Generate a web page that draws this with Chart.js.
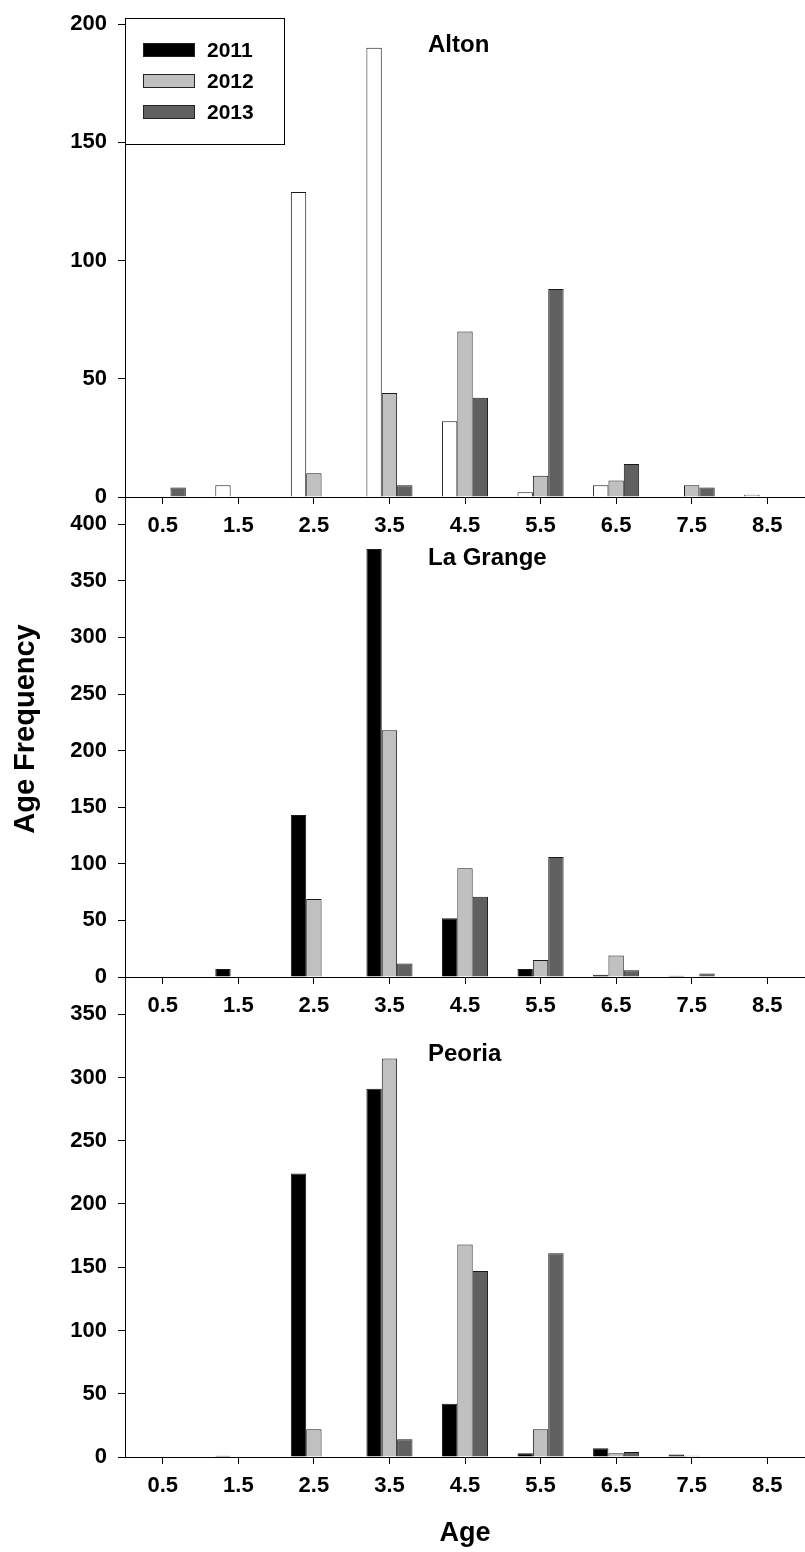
<!DOCTYPE html>
<html><head><meta charset="utf-8">
<script src="https://cdn.jsdelivr.net/npm/chart.js@4.4.1/dist/chart.umd.min.js"></script>
<style>
html,body{margin:0;padding:0;background:#fff;}
#wrap{position:relative;width:805px;height:1552px;overflow:hidden;background:#fff;}
canvas{position:absolute;left:0;}
</style></head><body>
<div id="wrap">
<canvas id="c1" width="805" height="560" style="top:0px;width:805px;height:560px"></canvas>
<canvas id="c2" width="805" height="540" style="top:500px;width:805px;height:540px"></canvas>
<canvas id="c3" width="805" height="562" style="top:990px;width:805px;height:562px"></canvas>
</div>
<script>
// ---- data ----
const ages = ['0.5','1.5','2.5','3.5','4.5','5.5','6.5','7.5','8.5'];
const years = ['2011','2012','2013'];

const alton2011 = [0, 5, 129, 190, 32, 2, 5, 0, 1];
const alton2012 = [0, 0, 10, 44, 70, 9, 7, 5, 0];
const alton2013 = [4, 0, 0, 5, 42, 88, 14, 4, 0];

const lagrange2011 = [0, 7, 143, 378, 52, 7, 2, 1, 0];
const lagrange2012 = [0, 0, 69, 218, 96, 15, 19, 0, 0];
const lagrange2013 = [0, 0, 0, 12, 71, 106, 6, 3, 0];

const peoria2011 = [0, 1, 224, 291, 42, 3, 7, 2, 0];
const peoria2012 = [0, 0, 22, 315, 168, 22, 3, 1, 0];
const peoria2013 = [0, 0, 0, 14, 147, 161, 4, 0, 0];

const altonTicks = [0, 50, 100, 150, 200];
const lagrangeTicks = [0, 50, 100, 150, 200, 250, 300, 350, 400];
const peoriaTicks = [0, 50, 100, 150, 200, 250, 300, 350];

const panelNames = ['Alton', 'La Grange', 'Peoria'];
const xTitle = 'Age';
const yTitle = 'Age Frequency';

// ---- styles ----
const FAMILY = "'Liberation Sans', Arial, Helvetica, sans-serif";
const yearColors = ['#000000', '#c0c0c0', '#606060'];
const barBorder = '#1a1a1a';

// ---- plugins ----
const axisExtend = {
  id: 'axisExtend',
  afterDraw(chart, args, opts) {
    if (!opts.enabled) return;
    const {ctx, chartArea} = chart;
    const x = Math.round(chartArea.left) + 0.5;
    ctx.save();
    ctx.strokeStyle = '#000';
    ctx.lineWidth = 1;
    ctx.beginPath();
    ctx.moveTo(x, chartArea.bottom);
    ctx.lineTo(x, chart.height);
    ctx.stroke();
    ctx.restore();
  }
};

const panelLabel = {
  id: 'panelLabel',
  afterDraw(chart, args, opts) {
    if (!opts.text) return;
    const {ctx} = chart;
    ctx.save();
    ctx.fillStyle = '#000';
    ctx.font = `bold ${opts.size}px ${FAMILY}`;
    ctx.textAlign = 'left';
    ctx.textBaseline = 'alphabetic';
    ctx.fillText(opts.text, opts.x, opts.y);
    ctx.restore();
  }
};

const boxLegend = {
  id: 'boxLegend',
  afterDraw(chart, args, opts) {
    if (!opts.show) return;
    const {ctx} = chart;
    ctx.save();
    ctx.strokeStyle = '#000';
    ctx.lineWidth = 1;
    ctx.fillStyle = '#fff';
    ctx.fillRect(opts.x, opts.y, opts.w, opts.h);
    ctx.strokeRect(opts.x + 0.5, opts.y + 0.5, opts.w, opts.h);
    ctx.font = `bold ${opts.size}px ${FAMILY}`;
    ctx.textBaseline = 'middle';
    ctx.textAlign = 'left';
    opts.labels.forEach((lab, i) => {
      const cy = opts.firstY + i * opts.step;
      ctx.fillStyle = opts.colors[i];
      ctx.fillRect(opts.swX, cy - opts.swH / 2, opts.swW, opts.swH);
      ctx.strokeStyle = '#222';
      ctx.strokeRect(opts.swX + 0.5, cy - opts.swH / 2 + 0.5, opts.swW - 1, opts.swH - 1);
      ctx.fillStyle = '#000';
      ctx.fillText(lab, opts.textX, cy + 1);
    });
    ctx.restore();
  }
};

const vTitle = {
  id: 'vTitle',
  afterDraw(chart, args, opts) {
    if (!opts.text) return;
    const {ctx} = chart;
    ctx.save();
    ctx.translate(opts.x, opts.y);
    ctx.rotate(-Math.PI / 2);
    ctx.fillStyle = '#000';
    ctx.font = `bold ${opts.size}px ${FAMILY}`;
    ctx.textAlign = 'center';
    ctx.textBaseline = 'middle';
    ctx.fillText(opts.text, 0, 0);
    ctx.restore();
  }
};

function makeDatasets(a, b, c, firstFill) {
  const vals = [a, b, c];
  return years.map((y, i) => ({
    label: y,
    data: vals[i],
    backgroundColor: (i === 0 && firstFill) ? firstFill : yearColors[i],
    borderColor: barBorder,
    borderWidth: 1,
    borderSkipped: 'bottom',
    categoryPercentage: 0.61,
    barPercentage: 1.0
  }));
}

function makeChart(id, datasets, yMax, yTicks, cfg) {
  const tickFont = {family: FAMILY, size: 22, weight: 'bold'};
  return new Chart(document.getElementById(id), {
    type: 'bar',
    data: {labels: ages, datasets},
    options: {
      responsive: false,
      animation: false,
      devicePixelRatio: 1,
      layout: {padding: {top: cfg.padTop, left: 0, right: 0, bottom: 0}},
      plugins: {
        legend: {display: false},
        tooltip: {enabled: false},
        axisExtend: {enabled: cfg.extend},
        panelLabel: cfg.label,
        boxLegend: cfg.legend || {show: false},
        vTitle: cfg.vTitle || {}
      },
      scales: {
        x: {
          type: 'category',
          offset: true,
          grid: {offset: false, drawOnChartArea: false, drawTicks: true, tickLength: 7, tickColor: '#000', tickWidth: 1},
          border: {display: true, color: '#000', width: 1},
          ticks: {color: '#000', font: tickFont, padding: 9, maxRotation: 0, autoSkip: false},
          title: cfg.xTitle ? {display: true, text: cfg.xTitle, color: '#000', font: {family: FAMILY, size: 27, weight: 'bold'}, padding: {top: 0, bottom: 2}} : {display: false},
          afterFit(s) { s.height = cfg.xHeight; }
        },
        y: {
          min: 0, max: yMax,
          afterBuildTicks(s) { s.ticks = yTicks.map(v => ({value: v})); },
          grid: {drawOnChartArea: false, drawTicks: true, tickLength: 7, tickColor: '#000', tickWidth: 1},
          border: {display: true, color: '#000', width: 1},
          ticks: {color: '#000', font: tickFont, padding: 11},
          afterFit(s) { s.width = 125; }
        }
      }
    },
    plugins: [axisExtend, panelLabel, boxLegend, vTitle]
  });
}

makeChart('c1', makeDatasets(alton2011, alton2012, alton2013, '#ffffff'), 200, altonTicks, {
  padTop: 18, xHeight: 63, extend: true,
  label: {text: panelNames[0], x: 428, y: 52, size: 24},
  legend: {show: true, x: 125, y: 18, w: 159, h: 126, labels: years, colors: yearColors,
           swX: 143, swW: 52, swH: 14, firstY: 50, step: 31, textX: 207, size: 21}
});

makeChart('c2', makeDatasets(lagrange2011, lagrange2012, lagrange2013), 400, lagrangeTicks, {
  padTop: 24, xHeight: 63, extend: true,
  label: {text: panelNames[1], x: 428, y: 65, size: 24},
  vTitle: {text: yTitle, x: 26, y: 229, size: 29}
});

makeChart('c3', makeDatasets(peoria2011, peoria2012, peoria2013), 350, peoriaTicks, {
  padTop: 19, xHeight: 95, extend: false,
  label: {text: panelNames[2], x: 428, y: 71, size: 24},
  xTitle: xTitle
});
</script>
</body></html>
